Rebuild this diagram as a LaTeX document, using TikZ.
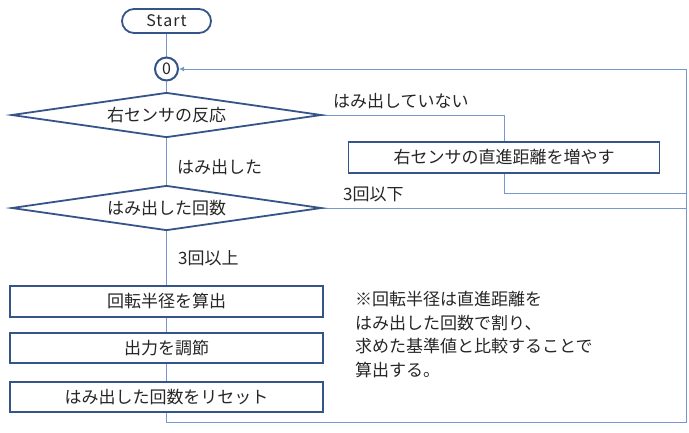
\documentclass[tikz,border=0pt]{standalone}
\usepackage{fontspec}
\setmainfont{Noto Sans CJK JP}
\usetikzlibrary{shapes.geometric,arrows.meta}
\pgfdeclarelayer{background}
\pgfsetlayers{background,main}
\definecolor{shapeblue}{RGB}{52,84,138}
\definecolor{linkblue}{RGB}{118,152,204}
\definecolor{inkgray}{RGB}{38,38,38}
\begin{document}
\begin{tikzpicture}[x=1pt,y=-1pt,
  txt/.style={font=\fontsize{17}{20}\selectfont, text=inkgray},
  terminal/.style={txt, font=\fontsize{16}{18}\selectfont\addfontfeature{LetterSpace=7}, draw=shapeblue, line width=1.8pt, fill=white,
    rectangle, rounded corners=12pt, minimum width=89pt, minimum height=24pt, inner sep=0pt},
  joint/.style={txt, font=\fontsize{16}{18}\selectfont, draw=shapeblue, line width=2pt, fill=white,
    circle, minimum size=23pt, inner sep=0pt},
  box/.style={txt, draw=shapeblue, line width=1.8pt, fill=white, rectangle,
    minimum width=313pt, minimum height=30pt, inner sep=0pt},
  decision/.style={txt, draw=shapeblue, line width=1.8pt, fill=white, diamond,
    aspect=6.8, minimum width=310pt, minimum height=45pt, inner sep=0pt},
  link/.style={draw=linkblue, line width=0.9pt},
  lbl/.style={txt, anchor=west, inner sep=0pt}
]
\useasboundingbox (0,0) rectangle (689,432);

% main column
\node[terminal] (start) at (166.5,21) {Start};
\node[joint] (j0) at (166.5,69) {0};
\node[decision] (d1) at (166.5,115) {右センサの反応};
\node[decision] (d2) at (166.5,208) {はみ出した回数};
\node[box, minimum height=31pt] (b1) at (166.5,301.5) {回転半径を算出};
\node[box] (b2) at (166.5,348) {出力を調節};
\node[box] (b3) at (166.5,397) {はみ出した回数をリセット};

% side branch
\node[box, minimum width=311pt, minimum height=31pt] (inc) at (504,157.5) {右センサの直進距離を増やす};

% branch labels
\node[lbl] (l1) at (333,101) {はみ出していない};
\node[lbl] (l2) at (177,167) {はみ出した};
\node[lbl] (l3) at (343,194) {3回以下};
\node[lbl] (l4) at (178,258) {3回以上};

% remark
\node[txt, anchor=north west, align=left, inner sep=0pt,
  font=\fontsize{17}{23.5}\selectfont] (note) at (355,291)
  {※回転半径は直進距離を\\はみ出した回数で割り、\\求めた基準値と比較することで\\算出する。};

% loop-back route
\coordinate (r1) at (686,193);
\coordinate (r2) at (686,208);
\coordinate (lb) at (166.5,422);
\coordinate (lc) at (686,422);
\coordinate (ld) at (686,69);

\begin{pgfonlayer}{background}
  \draw[link] (start) -- (j0);
  \draw[link] (j0) -- (d1);
  \draw[link] (d1) -- (d2);
  \draw[link] (d2) -- (b1);
  \draw[link] (b1) -- (b2);
  \draw[link] (b2) -- (b3);
  \draw[link] (d1.east) -| (inc.north);
  \draw[link] (inc.south) |- (r1);
  \draw[link] (d2.east) -- (r2);
  \draw[link, -{Latex[length=5pt,width=5pt]}] (b3.south) -- (lb) -- (lc) -- (ld) -- (j0.east);
\end{pgfonlayer}
\end{tikzpicture}
\end{document}
